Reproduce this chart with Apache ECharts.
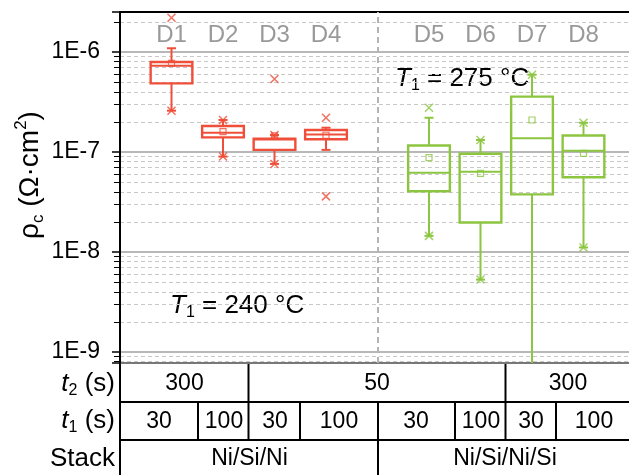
<!DOCTYPE html>
<html><head><meta charset="utf-8">
<script src="https://cdn.jsdelivr.net/npm/echarts@6/dist/echarts.min.js"></script>
<style>html,body{margin:0;padding:0;background:#fff}#c{width:629px;height:475px}</style>
</head><body><div id="c"></div>
<script>
// ---- data ----
const categories = ['D1','D2','D3','D4','D5','D6','D7','D8'];
const positions  = [1, 2, 3, 4, 6, 7, 8, 9];
const whiskerLow  = [2.59e-7, 9.0e-8, 7.6e-8, 1.05e-7, 1.45e-8, 5.3e-9, 3.0e-10, 1.11e-8];
const q1          = [4.86e-7, 1.40e-7, 1.05e-7, 1.34e-7, 4.05e-8, 1.97e-8, 3.77e-8, 5.6e-8];
const median      = [7.3e-7, 1.56e-7, 1.33e-7, 1.50e-7, 6.2e-8, 6.36e-8, 1.37e-7, 1.03e-7];
const q3          = [7.94e-7, 1.82e-7, 1.36e-7, 1.66e-7, 1.16e-7, 9.6e-8, 3.58e-7, 1.46e-7];
const whiskerHigh = [1.09e-6, 2.09e-7, 1.48e-7, 1.75e-7, 2.2e-7, 1.32e-7, 5.93e-7, 1.96e-7];
const means       = [7.7e-7, 1.6e-7, 1.45e-7, 1.47e-7, 8.77e-8, 6.1e-8, 2.09e-7, 9.7e-8];
const outlierPos  = [1, 1, 2, 2, 3, 3, 3, 4, 4, 6, 6, 7, 7, 8, 9, 9];
const outlierVal  = [2.2e-6, 2.59e-7, 2.09e-7, 9.0e-8, 5.37e-7, 1.48e-7, 7.6e-8, 2.2e-7, 3.6e-8,
                     2.77e-7, 1.45e-8, 1.32e-7, 5.3e-9, 5.93e-7, 1.96e-7, 1.11e-8];
const t2Labels = ['300', '50', '300'];
const t1Labels = ['30', '100', '30', '100', '30', '100', '30', '100'];
const stackLabels = ['Ni/Si/Ni', 'Ni/Si/Ni/Si'];
const tempLabels = ['240', '275'];

// ---- style ----
const RED = '#ef4f3a', GREEN = '#8cc540';
const FONT = '"Liberation Sans", Arial, sans-serif';
const chart = echarts.init(document.getElementById('c'));

function boxData(idxs){
  return idxs.map(i => [positions[i], whiskerLow[i], q1[i], median[i], q3[i], whiskerHigh[i]]);
}
function renderBox(color){
  return function(params, api){
    const x = api.value(0);
    const lo = api.value(1), a = api.value(2), m = api.value(3), b = api.value(4), hi = api.value(5);
    const cs = params.coordSys;
    const yBot = cs.y + cs.height;
    const hw = 0.405;
    const pTL = api.coord([x - hw, b]);
    const pBR = api.coord([x + hw, a]);
    const pM = api.coord([x, m]);
    const pLo = api.coord([x, lo]);
    const pHi = api.coord([x, hi]);
    const cx = pM[0];
    const st = {stroke: color, lineWidth: 2, fill: null};
    const ch = [];
    const loY = Math.min(pLo[1], yBot);
    ch.push({type:'line', shape:{x1:cx, y1:pHi[1], x2:cx, y2:pTL[1]}, style:st});
    ch.push({type:'line', shape:{x1:cx, y1:pBR[1], x2:cx, y2:loY}, style:st});
    ch.push({type:'line', shape:{x1:cx-4.5, y1:pHi[1], x2:cx+4.5, y2:pHi[1]}, style:st});
    if (pLo[1] <= yBot) ch.push({type:'line', shape:{x1:cx-4.5, y1:pLo[1], x2:cx+4.5, y2:pLo[1]}, style:st});
    ch.push({type:'rect', shape:{x:pTL[0], y:pTL[1], width:pBR[0]-pTL[0], height:pBR[1]-pTL[1]}, style:{stroke:color, lineWidth:2.4, fill:null}});
    ch.push({type:'line', shape:{x1:pTL[0], y1:pM[1], x2:pBR[0], y2:pM[1]}, style:st});
    return {type:'group', children:ch};
  };
}
const idxA = [0,1,2,3], idxB = [4,5,6,7];
const crossPath = 'path://M0,0L10,10M10,0L0,10';
function outliers(group){
  const out = [];
  outlierPos.forEach((p, i) => { if (group === 0 ? p < 5 : p > 5) out.push([p, outlierVal[i]]); });
  return out;
}
const labelY = 1.45e-6;

function tableGraphics(){
  const g = [];
  const L = (x1,y1,x2,y2) => g.push({type:'line', shape:{x1,y1,x2,y2}, style:{stroke:'#000', lineWidth:2}, silent:true});
  L(120, 363, 629, 363); L(120, 402, 629, 402); L(120, 440, 629, 440);
  L(120, 12, 120, 475);
  [248.5, 505.5].forEach(x => L(x, 363, x, 402));
  [198, 248.5, 300, 378, 455, 505.5, 556].forEach(x => L(x, 402, x, 440));
  L(378, 440, 378, 475);
  const T = (x, y, s) => g.push({type:'text', x, y, silent:true,
    style:{text:s, fontSize:23, fontFamily:FONT, fill:'#000', align:'center', verticalAlign:'middle'}});
  [184.5, 377, 568].forEach((x, i) => T(x, 384, t2Labels[i]));
  [159, 224, 275, 339, 416, 481, 531, 594].forEach((x, i) => T(x, 422, t1Labels[i]));
  [249.5, 505].forEach((x, i) => T(x, 459, stackLabels[i]));
  const richRow = {
    t:{fontSize:26, fontStyle:'italic', fontFamily:FONT, fill:'#000', lineHeight:30},
    s:{fontSize:16, fontFamily:FONT, fill:'#000', verticalAlign:'bottom', lineHeight:16},
    n:{fontSize:26, fontFamily:FONT, fill:'#000', lineHeight:30}
  };
  const R = (y, s) => g.push({type:'text', x:115, y, silent:true,
    style:{text:s, rich:richRow, align:'right', verticalAlign:'middle'}});
  R(384, '{t|t}{s|2}{n| (s)}');
  R(421, '{t|t}{s|1}{n| (s)}');
  R(459, '{n|Stack}');
  const richT = {
    T:{fontSize:26, fontStyle:'italic', fontFamily:FONT, fill:'#000', lineHeight:30},
    s:{fontSize:16, fontFamily:FONT, fill:'#000', verticalAlign:'bottom', lineHeight:16},
    n:{fontSize:26, fontFamily:FONT, fill:'#000', lineHeight:30}
  };
  g.push({type:'text', x:170, y:306, silent:true, style:{text:'{T|T}{s|1}{n| = ' + tempLabels[0] + ' °C}', rich:richT, align:'left', verticalAlign:'middle'}});
  g.push({type:'text', x:395, y:79, silent:true, style:{text:'{T|T}{s|1}{n| = ' + tempLabels[1] + ' °C}', rich:richT, align:'left', verticalAlign:'middle'}});
  g.push({type:'text', x:30, y:175, rotation:Math.PI/2, silent:true, style:{
    text:'{n|ρ}{s|c}{n| (Ω·cm}{p|2}{n|)}', align:'center', verticalAlign:'middle',
    rich:{
      n:{fontSize:28, fontFamily:FONT, fill:'#000', lineHeight:34},
      s:{fontSize:17, fontFamily:FONT, fill:'#000', verticalAlign:'bottom', lineHeight:17},
      p:{fontSize:17, fontFamily:FONT, fill:'#000', verticalAlign:'top', lineHeight:17}
    }}});
  return g;
}

const option = {
  animation:false,
  backgroundColor:'#fff',
  grid:{left:120, right:0, top:12, bottom:112, containLabel:false},
  xAxis:{type:'value', min:0, max:509/51.5, position:'top',
    axisLine:{show:true, onZero:false, lineStyle:{color:'#000', width:2}},
    axisTick:{show:false}, axisLabel:{show:false}, splitLine:{show:false}},
  yAxis:{type:'log', logBase:10, min:Math.pow(10,-9.11), max:Math.pow(10,-5.6),
    axisLine:{show:true, lineStyle:{color:'#000', width:2}},
    axisTick:{show:true, inside:false, length:8, lineStyle:{color:'#000', width:1.5}},
    minorTick:{show:true, splitNumber:9, length:6, lineStyle:{color:'#000', width:1}},
    splitLine:{show:true, lineStyle:{color:'#a0a0a0', width:1.5}},
    minorSplitLine:{show:true, lineStyle:{color:'#c8c8c8', width:1, type:[4,3]}},
    axisLabel:{fontSize:23, fontFamily:FONT, color:'#000', margin:20, showMinLabel:false, showMaxLabel:false,
      formatter:function(v){ const e = Math.log10(v); const r = Math.round(e); return Math.abs(e - r) < 1e-6 ? '1E' + r : ''; }}
  },
  graphic:tableGraphics(),
  series:[
    {type:'custom', name:'240', data:boxData(idxA), renderItem:renderBox(RED), z:3,
      markLine:{silent:true, symbol:'none', label:{show:false}, lineStyle:{color:'#b4b4b4', width:2, type:[6,4]},
        data:[{xAxis:5}]}},
    {type:'custom', name:'275', data:boxData(idxB), renderItem:renderBox(GREEN), z:3},
    {type:'scatter', data:outliers(0), symbol:crossPath, symbolSize:8, z:4,
      itemStyle:{color:'transparent', borderColor:RED, borderWidth:1.5}},
    {type:'scatter', data:outliers(1), symbol:crossPath, symbolSize:8, z:4,
      itemStyle:{color:'transparent', borderColor:GREEN, borderWidth:1.5}},
    {type:'scatter', data:idxA.map(i => [positions[i], means[i]]), symbol:'rect', symbolSize:6, z:5,
      itemStyle:{color:'transparent', borderColor:RED, borderWidth:1.2}},
    {type:'scatter', data:idxB.map(i => [positions[i], means[i]]), symbol:'rect', symbolSize:6, z:5,
      itemStyle:{color:'transparent', borderColor:GREEN, borderWidth:1.2}},
    {type:'scatter', data:positions.map((p, i) => ({value:[p, labelY], name:categories[i]})), symbolSize:0, z:6,
      label:{show:true, position:'inside', formatter:'{b}', fontSize:24, fontFamily:FONT, color:'#808080'}}
  ]
};
chart.setOption(option);
</script>
</body></html>
